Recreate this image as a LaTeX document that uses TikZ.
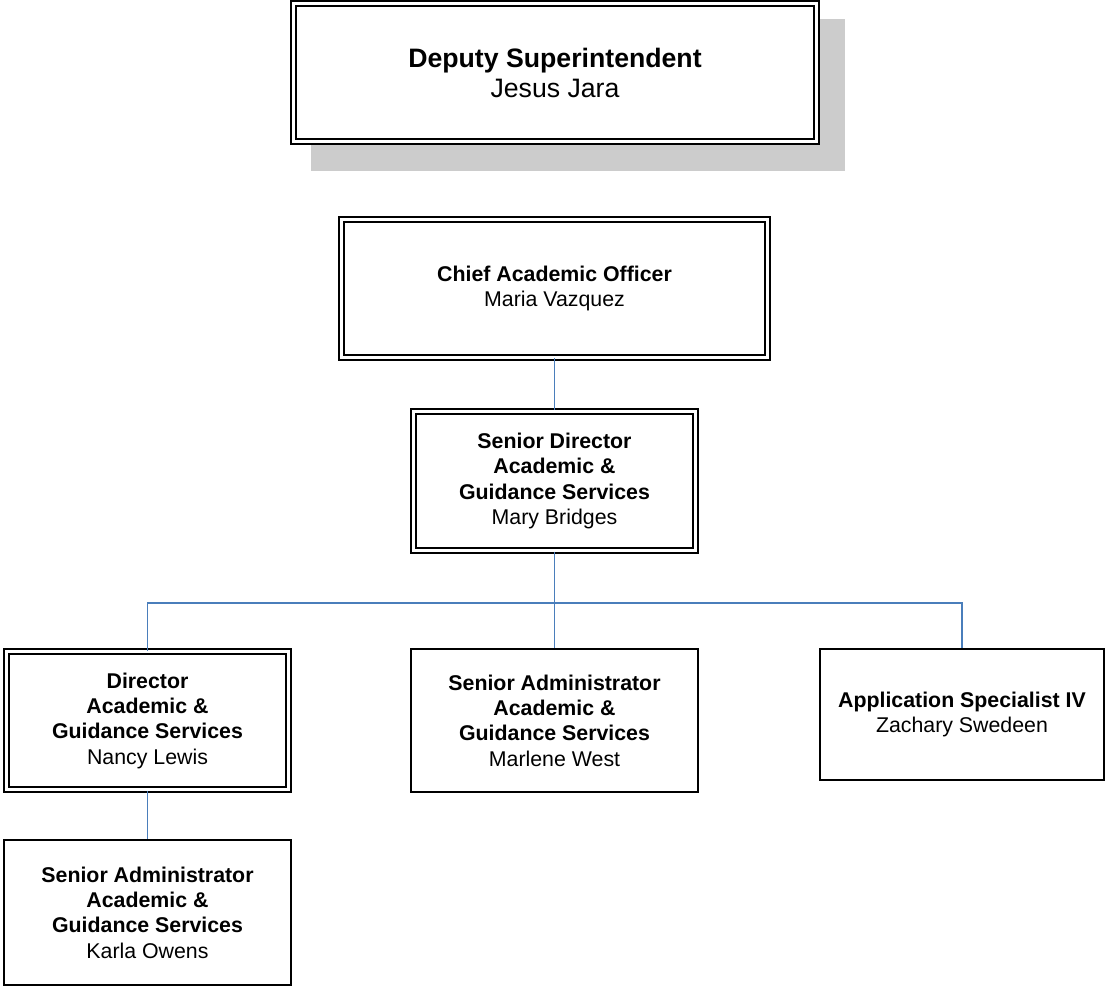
\documentclass[tikz,border=0pt]{standalone}
\usepackage{fontspec}
\setmainfont{Liberation Sans}
\usepackage{xcolor}
\usepackage{tikz}
\usetikzlibrary{backgrounds}

\definecolor{linkblue}{RGB}{74,126,187}
\definecolor{shadegray}{RGB}{204,204,204}

\begin{document}
\begin{tikzpicture}[x=0.75pt, y=-0.75pt,
            post/.style={rectangle, draw, fill=white, line width=1.5pt, inner sep=0pt, align=center, font=\fontsize{16}{19}\selectfont},
            dpost/.style={post, double, double distance=2.25pt},
            link/.style={draw=linkblue, line width=1.4pt}]
            \useasboundingbox (0,0) rectangle (1107,987);

            \node (dep) [dpost, minimum width=392.25pt, minimum height=103.5pt, font=\fontsize{20}{22.5}\selectfont] at (555,72.5) {\textbf{Deputy Superintendent} \\ Jesus Jara};
            \node (cao) [dpost, minimum width=319.5pt, minimum height=103.5pt] at (554.5,288.5) {\textbf{Chief Academic Officer} \\ Maria Vazquez};
            \node (sdir) [dpost, minimum width=211.5pt, minimum height=104.25pt] at (554.5,481) {\textbf{Senior Director} \\ \textbf{Academic \&} \\ \textbf{Guidance Services} \\ Mary Bridges};
            \node (dir) [dpost, minimum width=211.5pt, minimum height=103.5pt] at (147.5,720.5) {\textbf{Director} \\ \textbf{Academic \&} \\ \textbf{Guidance Services} \\ Nancy Lewis};
            \node (sadm) [post, minimum width=215.25pt, minimum height=107.25pt] at (554.5,720.5) {\textbf{Senior Administrator} \\ \textbf{Academic \&} \\ \textbf{Guidance Services} \\ Marlene West};
            \node (spec) [post, minimum width=213pt, minimum height=98.25pt] at (962,714.5) {\textbf{Application Specialist IV} \\ Zachary Swedeen};
            \node (sadm2) [post, minimum width=215.25pt, minimum height=108.75pt] at (147.5,912.5) {\textbf{Senior Administrator} \\ \textbf{Academic \&} \\ \textbf{Guidance Services} \\ Karla Owens};

            % shadow behind the top box
            \begin{scope}[on background layer]
                \fill [shadegray] ([shift={(18.5,16.5)}]dep.north west) rectangle ([shift={(27.5,28.5)}]dep.south east);
            \end{scope}

            \coordinate (bus) at (554.5,603);
            \draw [link] (cao) -- (sdir);
            \draw [link] (sdir) -- (bus);
            \draw [link] (bus) -| (dir.north);
            \draw [link] (bus) -- (sadm);
            \draw [link] (bus) -| (spec.north);
            \draw [link] (dir) -- (sadm2);
        \end{tikzpicture}
\end{document}
